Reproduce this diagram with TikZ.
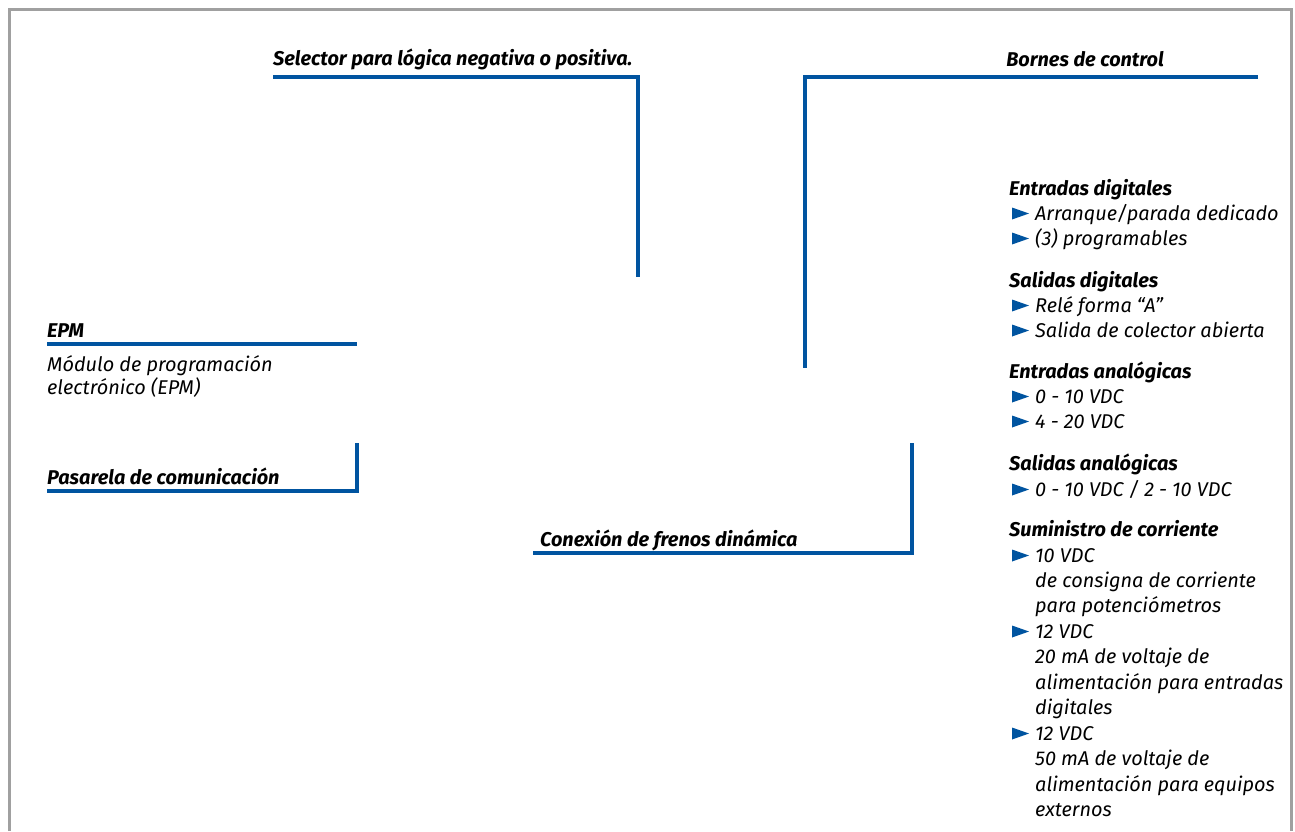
\documentclass[tikz,border=0pt]{standalone}
\usepackage{fontspec}
\setmainfont{Fira Sans}
\definecolor{leadblue}{RGB}{0,84,160}
\definecolor{framegray}{RGB}{160,160,160}
\tikzset{
  lbl/.style={inner sep=0pt, anchor=base west, font=\itshape\fontsize{19.9}{22}\selectfont},
  hdr/.style={lbl, font=\bfseries\itshape\fontsize{19.9}{22}\selectfont},
  lead/.style={draw=leadblue, line width=3.2pt},
  tri/.pic={\fill[leadblue] (0,-0.5) -- (0,-12.5) -- (17,-6.5) -- cycle;},
}
\begin{document}
\begin{tikzpicture}[x=1pt,y=-1pt]
\useasboundingbox (0,0) rectangle (1295,831);
% frame
\draw[framegray, line width=3pt] (9.5,831) -- (9.5,9.5) -- (1291,9.5) -- (1291,831);

% top labels
\node[hdr] (sel) at (273,65) {Selector para lógica negativa o positiva.};
\node[hdr, anchor=base east] (bor) at (1164,66) {Bornes de control};
\coordinate (selA) at (273,77);
\coordinate (selB) at (638,77);
\coordinate (selC) at (638,277);
\draw[lead] (selA) -- (selB) -- (selC);
\coordinate (borA) at (1258,77);
\coordinate (borB) at (805,77);
\coordinate (borC) at (805,368);
\draw[lead] (borA) -- (borB) -- (borC);

% left labels
\node[hdr] (epm) at (47,337) {EPM};
\coordinate (epmA) at (47,344);
\coordinate (epmB) at (357,344);
\draw[lead] (epmA) -- (epmB);
\node[lbl] (epm1) at (47,371) {Módulo de programación};
\node[lbl] (epm2) at (47,394) {electrónico (EPM)};

\node[hdr] (pas) at (47,484) {Pasarela de comunicación};
\coordinate (pasA) at (47,491);
\coordinate (pasB) at (357,491);
\coordinate (pasC) at (357,443);
\draw[lead] (pasA) -- (pasB) -- (pasC);

\node[hdr] (con) at (540,546) {Conexión de frenos dinámica};
\coordinate (conA) at (533,553);
\coordinate (conB) at (912,553);
\coordinate (conC) at (912,443);
\draw[lead] (conA) -- (conB) -- (conC);

% right column
\node[hdr] (h1) at (1009,195) {Entradas digitales};
\pic at (1012,220) {tri}; \node[lbl] (h1a) at (1035,220) {Arranque/parada dedicado};
\pic at (1012,245) {tri}; \node[lbl] (h1b) at (1035,245) {(3) programables};

\node[hdr] (h2) at (1009,287) {Salidas digitales};
\pic at (1012,312) {tri}; \node[lbl] (h2a) at (1035,312) {Relé forma “A”};
\pic at (1012,337) {tri}; \node[lbl] (h2b) at (1035,337) {Salida de colector abierta};

\node[hdr] (h3) at (1009,378) {Entradas analógicas};
\pic at (1012,403) {tri}; \node[lbl] (h3a) at (1035,403) {0 - 10 VDC};
\pic at (1012,428) {tri}; \node[lbl] (h3b) at (1035,428) {4 - 20 VDC};

\node[hdr] (h4) at (1009,470) {Salidas analógicas};
\pic at (1012,496) {tri}; \node[lbl] (h4a) at (1035,496) {0 - 10 VDC / 2 - 10 VDC};

\node[hdr] (h5) at (1009,536) {Suministro de corriente};
\pic at (1012,562) {tri}; \node[lbl] (h5a) at (1035,562) {10 VDC};
\node[lbl] (h5b) at (1035,587) {de consigna de corriente};
\node[lbl] (h5c) at (1035,612) {para potenciómetros};
\pic at (1012,638) {tri}; \node[lbl] (h5d) at (1035,638) {12 VDC};
\node[lbl] (h5e) at (1035,663) {20 mA de voltaje de};
\node[lbl] (h5f) at (1035,689) {alimentación para entradas};
\node[lbl] (h5g) at (1035,714) {digitales};
\pic at (1012,740) {tri}; \node[lbl] (h5h) at (1035,740) {12 VDC};
\node[lbl] (h5i) at (1035,765) {50 mA de voltaje de};
\node[lbl] (h5j) at (1035,791) {alimentación para equipos};
\node[lbl] (h5k) at (1035,816) {externos};
\end{tikzpicture}
\end{document}
